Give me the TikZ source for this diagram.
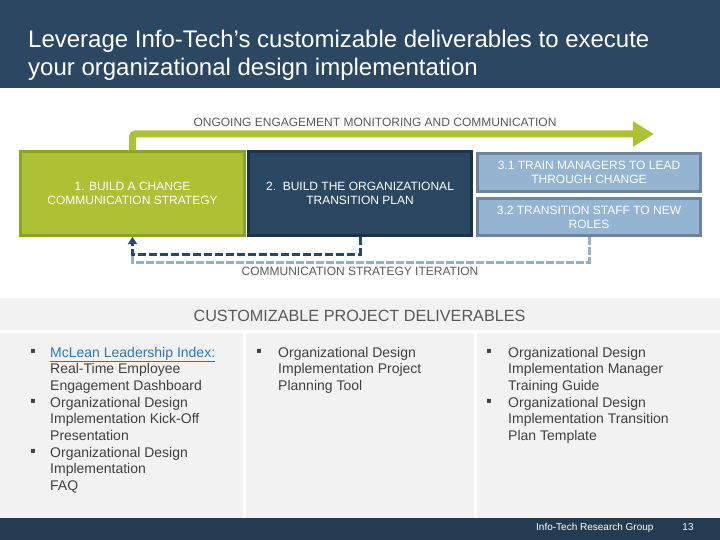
\documentclass[tikz,border=0pt]{standalone}
\usepackage{fontspec}
\setmainfont{Liberation Sans}
\newfontfamily\symfont{DejaVu Sans}
\usetikzlibrary{arrows.meta}
\definecolor{titlebar}{HTML}{2B4762}
\definecolor{footbar}{HTML}{243C51}
\definecolor{greenfill}{HTML}{ADC135}
\definecolor{greenedge}{HTML}{8CA22B}
\definecolor{navyfill}{HTML}{2B4862}
\definecolor{navyedge}{HTML}{1C3246}
\definecolor{bluefill}{HTML}{94B4D1}
\definecolor{blueedge}{HTML}{6E8499}
\definecolor{lightdash}{HTML}{94B1C9}
\definecolor{graytext}{HTML}{595959}
\definecolor{bodytext}{HTML}{404040}
\definecolor{panel}{HTML}{F2F2F2}
\definecolor{linkblue}{HTML}{2E75B6}
\tikzset{
  stepbox/.style={draw, line width=3pt, text=white, align=center, inner sep=0pt,
    font=\fontsize{12}{14}\selectfont},
  caption/.style={text=graytext, inner sep=0pt, font=\fontsize{12}{14}\selectfont},
  listtext/.style={text=bodytext, align=left, inner sep=0pt, anchor=base west,
    font=\fontsize{14}{16.7}\selectfont},
  bullet/.style={text=bodytext, inner sep=0pt, font=\symfont\fontsize{8}{8}\selectfont},
  greenarrow/.style={draw=greenfill, line width=7pt, rounded corners=3pt,
    -{Triangle[length=21pt,width=24pt]}},
  darkdash/.style={draw=navyfill, line width=3pt, dash pattern=on 8pt off 3pt,
    -{Triangle[length=7pt,width=9pt]}},
  lightdashed/.style={draw=lightdash, line width=3pt, dash pattern=on 8pt off 2pt}
}
\begin{document}
\begin{tikzpicture}[x=1pt,y=-1pt]
\useasboundingbox (0,0) rectangle (720,540);
% title bar
\fill[titlebar] (0,0) rectangle (720,88);
\node[anchor=base west, inner sep=0pt, text=white, font=\fontsize{24}{28}\selectfont] (title1) at (28,48) {Leverage Info-Tech’s customizable deliverables to execute};
\node[anchor=base west, inner sep=0pt, text=white, font=\fontsize{24}{28}\selectfont] (title2) at (28,76) {your organizational design implementation};
% step boxes
\node[stepbox, fill=greenfill, draw=greenedge, minimum width=224pt, minimum height=84pt] (b1) at (132.5,193.5) {1. BUILD A CHANGE\\COMMUNICATION STRATEGY};
\node[stepbox, fill=navyfill, draw=navyedge, minimum width=223pt, minimum height=84pt] (b2) at (360,193.5) {2.\ \ BUILD THE ORGANIZATIONAL\\TRANSITION PLAN};
\node[stepbox, fill=bluefill, draw=blueedge, minimum width=223pt, minimum height=38pt] (b31) at (589,172.5) {3.1 TRAIN MANAGERS TO LEAD\\THROUGH CHANGE};
\node[stepbox, fill=bluefill, draw=blueedge, minimum width=223pt, minimum height=37pt] (b32) at (589,217) {3.2 TRANSITION STAFF TO NEW\\ROLES};
% ongoing arrow
\coordinate (gend) at (654,134);
\draw[greenarrow] (b1.north) |- (gend);
\node[caption, anchor=base] (ongoing) at (375,127) {ONGOING ENGAGEMENT MONITORING AND COMMUNICATION};
% iteration loops
\coordinate (lc) at (132.5,255);
\draw[lightdashed] (b32.south) -- ++(0,25) -| (lc);
\draw[darkdash] (b2.south) -- ++(0,17) -| (b1.south);
\node[caption, anchor=base] (iter) at (360,275) {COMMUNICATION STRATEGY ITERATION};
% deliverables band
\fill[panel] (0,298) rectangle (720,330);
\node[anchor=base, inner sep=0pt, text=graytext, font=\fontsize{16.2}{18}\selectfont] (head) at (359.5,321.7) {CUSTOMIZABLE PROJECT DELIVERABLES};
\fill[panel] (0,333) rectangle (243,518);
\fill[panel] (246,333) rectangle (474,518);
\fill[panel] (477,333) rectangle (720,518);
% column 1 (base anchor = last line baseline)
\node[bullet] (c1b1) at (33,351.5) {▪};
\node[listtext] (c1t1) at (50,390.4) {\textcolor{linkblue}{\underline{McLean Leadership Index:}}\\Real-Time Employee\\Engagement Dashboard};
\node[bullet] (c1b2) at (33,401.6) {▪};
\node[listtext] (c1t2) at (50,440.5) {Organizational Design\\Implementation Kick-Off\\Presentation};
\node[bullet] (c1b3) at (33,451.7) {▪};
\node[listtext] (c1t3) at (50,490.6) {Organizational Design\\Implementation\\FAQ};
% column 2
\node[bullet] (c2b1) at (259,351.5) {▪};
\node[listtext] (c2t1) at (278,390.4) {Organizational Design\\Implementation Project\\Planning Tool};
% column 3
\node[bullet] (c3b1) at (489,351.5) {▪};
\node[listtext] (c3t1) at (508,390.4) {Organizational Design\\Implementation Manager\\Training Guide};
\node[bullet] (c3b2) at (489,401.6) {▪};
\node[listtext] (c3t2) at (508,440.5) {Organizational Design\\Implementation Transition\\Plan Template};
% footer
\fill[footbar] (0,518) rectangle (720,540);
\node[anchor=base west, inner sep=0pt, text=white, font=\fontsize{10}{11}\selectfont] (foot) at (536,530.5) {Info-Tech Research Group};
\node[anchor=base, inner sep=0pt, text=white, font=\fontsize{10}{11}\selectfont] (page) at (688,530.5) {13};
\end{tikzpicture}
\end{document}
